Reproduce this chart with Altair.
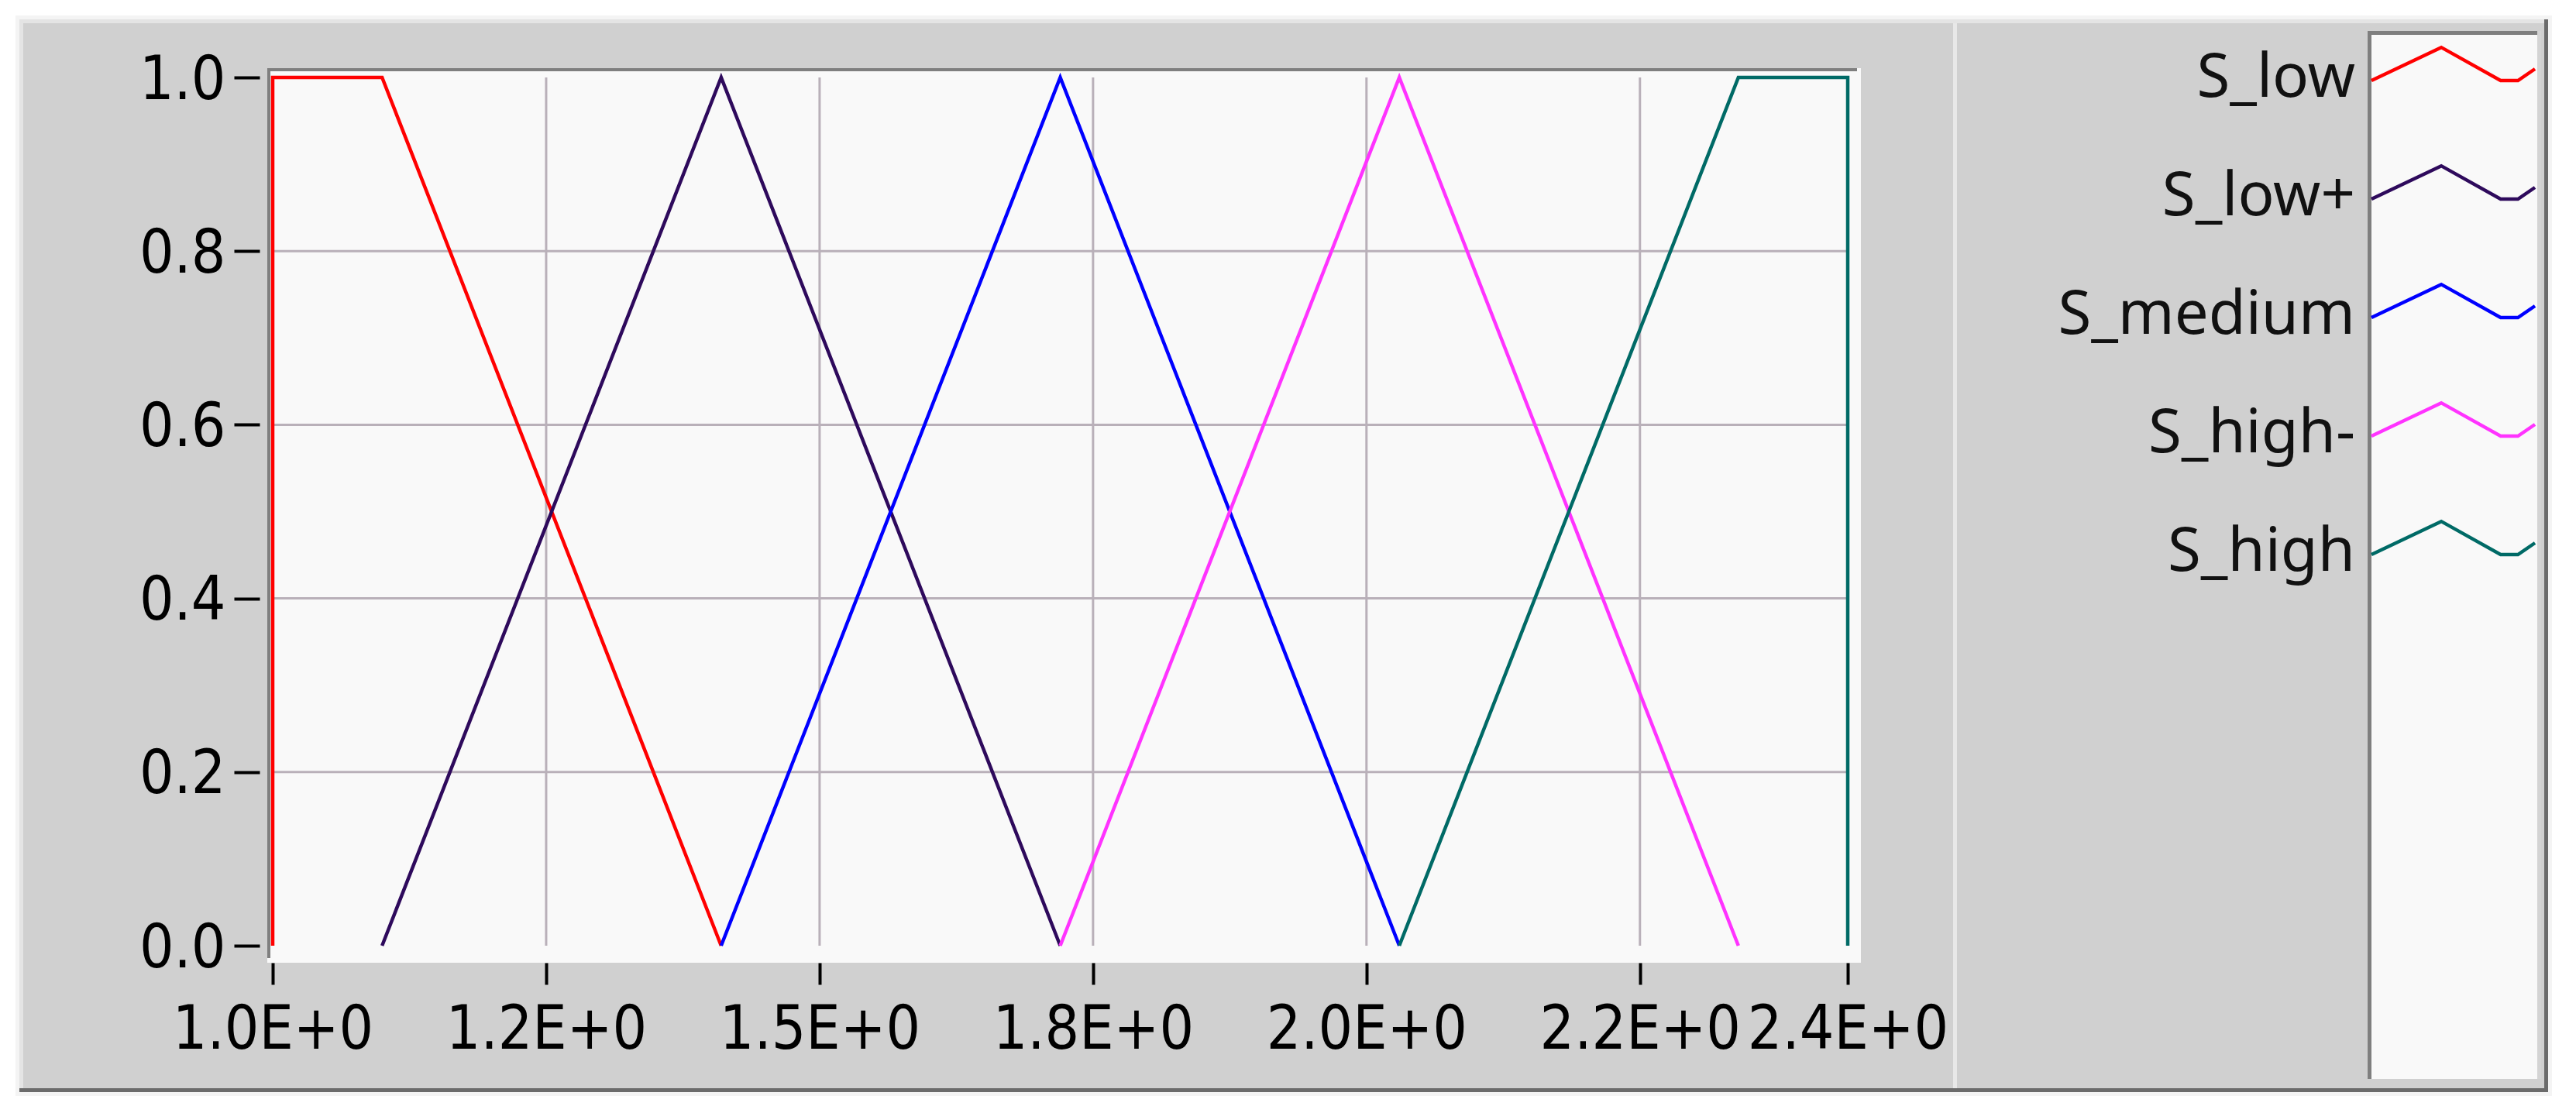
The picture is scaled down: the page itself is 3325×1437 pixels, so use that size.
import altair as alt
import pandas as pd

# ---------------- data ----------------
series_names = ["S_low", "S_low+", "S_medium", "S_high-", "S_high"]
series_colors = ["#ff0000", "#2e0a5c", "#0000ff", "#ff33ff", "#006a66"]

s_low_x = [1.0, 1.0, 1.10, 1.41]
s_low_y = [0.0, 1.0, 1.0, 0.0]
s_lowp_x = [1.10, 1.41, 1.72]
s_lowp_y = [0.0, 1.0, 0.0]
s_medium_x = [1.41, 1.72, 2.03]
s_medium_y = [0.0, 1.0, 0.0]
s_highm_x = [1.72, 2.03, 2.34]
s_highm_y = [0.0, 1.0, 0.0]
s_high_x = [2.03, 2.34, 2.44, 2.44]
s_high_y = [0.0, 1.0, 1.0, 0.0]

x_tick_values = [1.0, 1.25, 1.5, 1.75, 2.0, 2.25, 2.44]
x_tick_labels = ["1.0E+0", "1.2E+0", "1.5E+0", "1.8E+0", "2.0E+0", "2.2E+0", "2.4E+0"]
y_tick_values = [0.0, 0.2, 0.4, 0.6, 0.8, 1.0]

# legend sample shape (zig-zag), relative units
legend_shape_u = [0.0, 0.427, 0.79, 0.896, 1.0]
legend_shape_v = [0.0, 1.0, 0.0, 0.0, 0.35]

# ---------------- tables ----------------
rows = []
for name, xs_, ys_ in zip(
    series_names,
    [s_low_x, s_lowp_x, s_medium_x, s_highm_x, s_high_x],
    [s_low_y, s_lowp_y, s_medium_y, s_highm_y, s_high_y],
):
    for k, (xv, yv) in enumerate(zip(xs_, ys_)):
        rows.append({"series": name, "x": xv, "y": yv, "order": k})
df = pd.DataFrame(rows)

leg_rows = []
for i, name in enumerate(series_names):
    for k, (u, v) in enumerate(zip(legend_shape_u, legend_shape_v)):
        leg_rows.append({"series": name, "u": u, "ly": i - v * 0.28, "k": k})
leg_df = pd.DataFrame(leg_rows)
lab_df = pd.DataFrame({"series": series_names, "row": list(range(len(series_names)))})

dummy = pd.DataFrame({"k": [0]})

# ---------------- styles ----------------
TICK_FONT = "DejaVu Sans Condensed, Liberation Sans Narrow, DejaVu Sans, sans-serif"
LEG_FONT = "Segoe UI, Noto Sans, Open Sans, sans-serif"
GRID = "#b9b0b9"
PANEL = "#d0d0d0"
PLOTBG = "#f9f9f9"
FRAME = "#7f7f7f"

W, H = 2033, 1121

color_scale = alt.Scale(domain=series_names, range=series_colors)
xs = alt.Scale(domain=[1.0, 2.44], nice=False, zero=False)
ys = alt.Scale(domain=[0.0, 1.0], nice=False, zero=False)

label_expr = (
    "[" + ",".join("'%s'" % l for l in x_tick_labels) + "]"
    + "[indexof([" + ",".join(repr(v) for v in x_tick_values) + "], datum.value)]"
)

x_axis = alt.Axis(
    values=x_tick_values, labelExpr=label_expr, title=None, grid=False, domain=False,
    tickSize=28, tickWidth=4, tickColor="#000000", offset=22, zindex=2,
    labelFont=TICK_FONT, labelFontSize=78, labelColor="#000000", labelPadding=20,
    labelOverlap=False, labelFlush=False, labelBaseline="top", labelLimit=1000,
)
y_axis = alt.Axis(
    values=y_tick_values, format=".1f", title=None, grid=False, domain=False,
    tickSize=33, tickWidth=4, tickColor="#000000", offset=17, zindex=2,
    labelFont=TICK_FONT, labelFontSize=78, labelColor="#000000", labelPadding=11,
    labelOverlap=False, labelFlush=False, labelBaseline="middle", labelOffset=4,
    labelLimit=1000,
)


def box(x1, x2, y1, y2, color):
    return alt.Chart(dummy).mark_rect(color=color, clip=False).encode(
        x=alt.value(x1), x2=alt.value(x2), y=alt.value(y1), y2=alt.value(y2)
    )


decor = [
    box(-332, 2942, -80, 1315, "#f4f4f4"),
    box(-327, 2937, -75, 1310, "#e4e4e4"),
    box(-322, 2932, -70, 1305, PANEL),
    box(2932, 2937, -75, 1310, "#6b6b6b"),
    box(-327, 2937, 1305, 1310, "#6b6b6b"),
    box(2169, 2174, -70, 1305, "#e8e8e8"),
    # plot area background + frame
    box(-7, 2050, -12, 1143, PLOTBG),
    box(-7, 2045, -12, -8, FRAME),
    box(-7, -3, -12, 1137, FRAME),
    # legend box
    box(2704, 2928, -60, 1293, PLOTBG),
    box(2923, 2928, -60, 1293, "#d4d4d4"),
    box(2704, 2923, -60, -55, FRAME),
    box(2704, 2709, -60, 1293, FRAME),
]

grid_x = alt.Chart(pd.DataFrame({"x": x_tick_values[1:-1]})).mark_rule(
    color=GRID, strokeWidth=3
).encode(x=alt.X("x:Q", scale=xs, axis=x_axis))
grid_y = alt.Chart(pd.DataFrame({"y": y_tick_values[1:-1]})).mark_rule(
    color=GRID, strokeWidth=3
).encode(y=alt.Y("y:Q", scale=ys, axis=y_axis))

lines = alt.Chart(df).mark_line(strokeWidth=4.5, clip=False).encode(
    x=alt.X("x:Q", scale=xs, axis=x_axis),
    y=alt.Y("y:Q", scale=ys, axis=y_axis),
    color=alt.Color("series:N", scale=color_scale, legend=None),
    order=alt.Order("order:Q"),
)

main = alt.layer(grid_x, grid_y, lines)

leg_x = alt.Scale(domain=[0, 1], range=[2709, 2920], nice=False, zero=False)
leg_y = alt.Scale(domain=[0, 4], range=[4, 616], nice=False, zero=False)

leg_lines = alt.Chart(leg_df).mark_line(strokeWidth=4.5, clip=False).encode(
    x=alt.X("u:Q", scale=leg_x, axis=None),
    y=alt.Y("ly:Q", scale=leg_y, axis=None),
    color=alt.Color("series:N", scale=color_scale, legend=None),
    order=alt.Order("k:Q"),
)
leg_labels = alt.Chart(lab_df).mark_text(
    align="right", baseline="alphabetic", dy=21, font=LEG_FONT, fontSize=78, color="#111111"
).encode(
    x=alt.value(2688),
    y=alt.Y("row:Q", scale=leg_y, axis=None),
    text="series:N",
)
legend = alt.layer(leg_lines, leg_labels)

chart = (
    alt.layer(*decor, main, legend)
    .resolve_scale(x="independent", y="independent", color="independent")
    .properties(
        width=W,
        height=H,
        background="white",
        padding={"left": 344, "top": 92, "right": 925, "bottom": 202},
        autosize=alt.AutoSizeParams(type="none"),
    )
    .configure_view(stroke=None)
)

chart.save("out.html", embed_options={"renderer": "svg", "actions": False})
